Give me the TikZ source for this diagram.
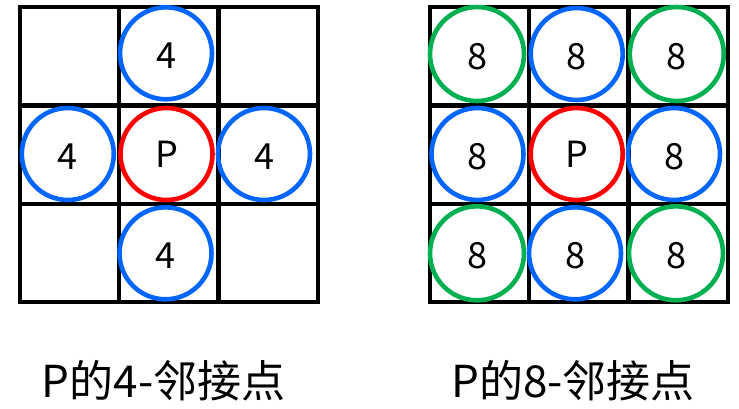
\documentclass[tikz,border=0pt]{standalone}
\usepackage{fontspec}
\setmainfont{Noto Sans CJK SC}
\definecolor{cblue}{RGB}{0,102,255}
\definecolor{cred}{RGB}{255,0,0}
\definecolor{cgreen}{RGB}{0,176,80}
\begin{document}
\begin{tikzpicture}[x=1pt,y=-1pt,
  gridline/.style={line width=4.4pt,black},
  ring/.style={circle,line width=4.6pt,minimum size=92pt,inner sep=0pt,draw=#1},
  bigring/.style={circle,line width=4.6pt,minimum size=94pt,inner sep=0pt,draw=#1},
  dig/.style={anchor=base,inner sep=0pt,font=\fontsize{36}{40}\selectfont},
  captext/.style={anchor=base,inner sep=0pt,font=\fontsize{44}{50}\selectfont}]
\useasboundingbox (0,0) rectangle (739,408);
% left grid
\draw[gridline] (20,7) rectangle (318,302);
\draw[gridline] (119,7) -- (119,302) (218.5,7) -- (218.5,302)
                (20,105.5) -- (318,105.5) (20,204) -- (318,204);
% right grid
\draw[gridline] (430,7) rectangle (728,302);
\draw[gridline] (529,7) -- (529,302) (628.5,7) -- (628.5,302)
                (430,105.5) -- (728,105.5) (430,204) -- (728,204);
% left circles
\node[ring=cblue] (lt) at (166,53.3) {};
\node[ring=cblue] (ll) at (67.8,154) {};
\node[ring=cred]  (lp) at (166.5,154) {};
\node[ring=cblue] (lr) at (264,154) {};
\node[ring=cblue] (lb) at (165.5,253.3) {};
\node[dig] (tlt) at ([yshift=-15pt]lt.center) {4};
\node[dig] (tll) at ([yshift=-15pt]ll.center) {4};
\node[dig] (tlp) at ([yshift=-13pt]lp.center) {P};
\node[dig] (tlr) at ([yshift=-15pt]lr.center) {4};
\node[dig] (tlb) at ([yshift=-15pt]lb.center) {4};
% right circles
\node[bigring=cgreen] (r11) at (477,54) {};
\node[ring=cblue]     (r12) at (576.7,54) {};
\node[bigring=cgreen] (r13) at (676.8,54) {};
\node[ring=cblue]     (r21) at (477.5,154) {};
\node[ring=cred]      (r22) at (576.7,154) {};
\node[ring=cblue]     (r23) at (674,154) {};
\node[bigring=cgreen] (r31) at (477,253.3) {};
\node[ring=cblue]     (r32) at (575,253.3) {};
\node[bigring=cgreen] (r33) at (676,253.3) {};
\node[dig] (t11) at ([yshift=-15pt]r11.center) {8};
\node[dig] (t12) at ([yshift=-15pt]r12.center) {8};
\node[dig] (t13) at ([yshift=-15pt]r13.center) {8};
\node[dig] (t21) at ([yshift=-15pt]r21.center) {8};
\node[dig] (t22) at ([yshift=-13pt]r22.center) {P};
\node[dig] (t23) at ([yshift=-15pt]r23.center) {8};
\node[dig] (t31) at ([yshift=-15pt]r31.center) {8};
\node[dig] (t32) at ([yshift=-15pt]r32.center) {8};
\node[dig] (t33) at ([yshift=-15pt]r33.center) {8};
% captions
\node[captext] (capl) at (163.5,397) {P的4-邻接点};
\node[captext] (capr) at (573,397) {P的8-邻接点};
\end{tikzpicture}
\end{document}
